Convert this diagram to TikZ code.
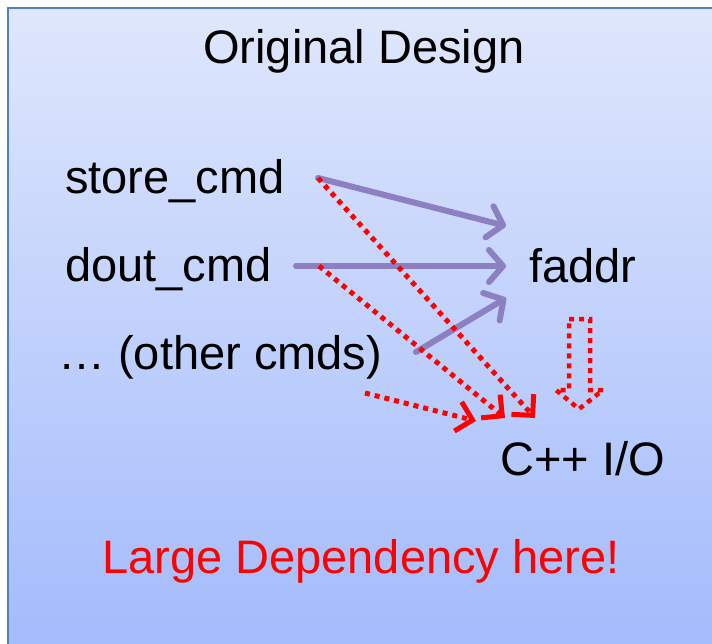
\documentclass[tikz,border=0pt]{standalone}
\usepackage{fontspec}
\setmainfont{Liberation Sans}
\usetikzlibrary{arrows.meta}
\definecolor{boxtop}{RGB}{223,231,252}
\definecolor{boxbot}{RGB}{160,185,252}
\definecolor{boxline}{RGB}{79,129,189}
\definecolor{purp}{RGB}{140,128,192}
\definecolor{depred}{RGB}{255,0,0}
\tikzset{
  lbl/.style={inner sep=0pt, font=\fontsize{47}{56}\selectfont},
  purparrow/.style={draw=purp, line width=6pt, line cap=round,
    -{Straight Barb[length=14pt, width=32pt, line cap=round, line join=round]}},
  redarrow/.style={draw=depred, line width=5pt, dash pattern=on 5pt off 5pt,
    -{Straight Barb[length=15pt, width=30pt, line cap=butt, line join=miter]}},
}
\begin{document}
\begin{tikzpicture}[x=1pt,y=-1pt]
\useasboundingbox (0,0) rectangle (712,644);
\fill[white] (0,0) rectangle (712,644);
\shade[top color=boxtop, bottom color=boxbot, draw=boxline, line width=2pt] (8,8) rectangle (740,680);

\node[lbl, anchor=base] (title) at (364,64) {Original Design};
\node[lbl, anchor=base west] (store) at (65,194) {store\_cmd};
\node[lbl, anchor=base west] (dout) at (65,282) {dout\_cmd};
\node[lbl, anchor=base west] (other) at (58,369) {… (other cmds)};
\node[lbl, anchor=base west] (faddr) at (529,283) {faddr};
\node[lbl, anchor=base west] (cio) at (500,475) {C++ I/O};
\node[lbl, anchor=base, text=depred] (large) at (361,573) {Large Dependency here!};

\coordinate (s0) at (318,178);
\coordinate (d0) at (296,266);
\coordinate (dr0) at (319,266);
\coordinate (o0) at (416,352);
\coordinate (or0) at (365,393);
\coordinate (f1) at (506,226);
\coordinate (f2) at (506,266);
\coordinate (f3) at (506,298);
\coordinate (c1) at (535,418);
\coordinate (c2) at (505,418);
\coordinate (c3) at (476,421);

\draw[purparrow] (s0) -- (f1);
\draw[purparrow] (d0) -- (f2);
\draw[purparrow] (o0) -- (f3);

\draw[redarrow] (s0) -- (c1);
\draw[redarrow] (dr0) -- (c2);
\draw[redarrow] (or0) -- (c3);

% block arrow faddr -> C++ I/O
\draw[draw=depred, line width=4.5pt, dash pattern=on 5pt off 5pt, line join=miter]
  (569,319) -- (590,319) -- (590,390) -- (603,390) -- (579,409) -- (556,390) -- (569,390) -- cycle;
\end{tikzpicture}
\end{document}
